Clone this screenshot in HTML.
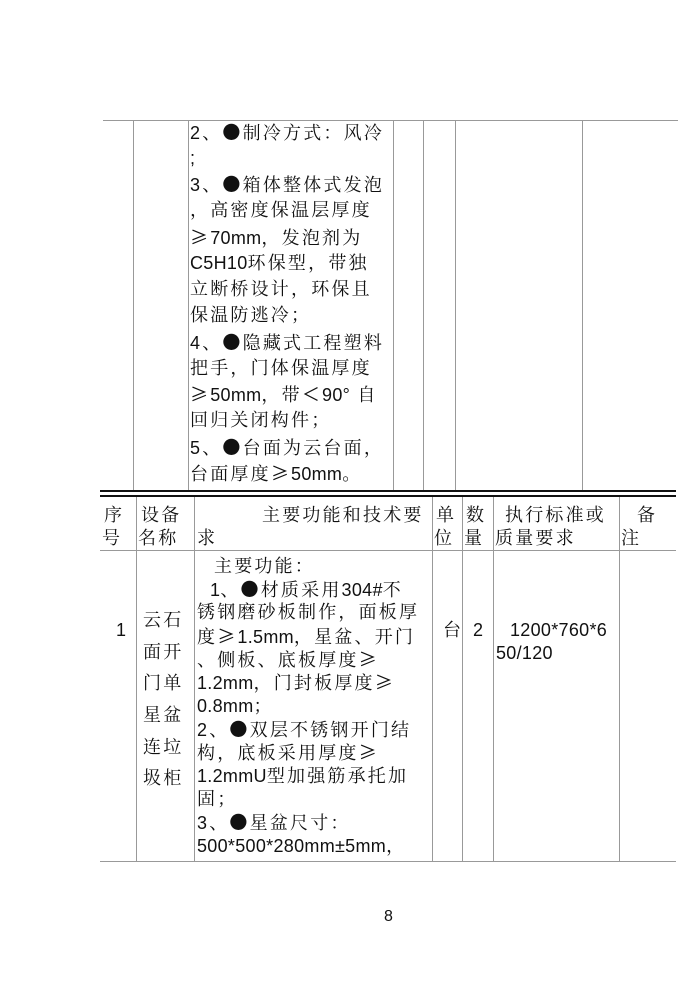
<!DOCTYPE html>
<html><head><meta charset="utf-8">
<style>
body{margin:0;background:#fff;}
#p{position:relative;width:699px;height:982px;overflow:hidden;font-family:"Liberation Sans","Noto Serif CJK SC","Noto Sans CJK SC",sans-serif;color:#111;}
.h{position:absolute;height:1px;background:#999;}
.v{position:absolute;width:1px;background:#999;}
.t{position:absolute;white-space:nowrap;font-size:18px;letter-spacing:2.2px;line-height:20px;}
.n{letter-spacing:0.3px;}
.c{font-family:"Noto Sans CJK SC",sans-serif;}
</style></head><body><div id="p">
<div class="h" style="left:103px;top:120px;width:575px"></div>
<div class="v" style="left:133px;top:120px;height:370px"></div>
<div class="v" style="left:188px;top:120px;height:370px"></div>
<div class="v" style="left:393px;top:120px;height:370px"></div>
<div class="v" style="left:423px;top:120px;height:370px"></div>
<div class="v" style="left:455px;top:120px;height:370px"></div>
<div class="v" style="left:582px;top:120px;height:370px"></div>
<div style="position:absolute;left:100px;top:490px;width:576px;height:2px;background:#111"></div>
<div style="position:absolute;left:100px;top:495px;width:576px;height:2px;background:#111"></div>
<div class="h" style="left:100px;top:550px;width:576px"></div>
<div class="h" style="left:100px;top:861px;width:576px"></div>
<div class="v" style="left:136px;top:497px;height:365px"></div>
<div class="v" style="left:194px;top:497px;height:365px"></div>
<div class="v" style="left:432px;top:497px;height:365px"></div>
<div class="v" style="left:462px;top:497px;height:365px"></div>
<div class="v" style="left:493px;top:497px;height:365px"></div>
<div class="v" style="left:619px;top:497px;height:365px"></div>

<div class="t" style="left:190px;top:122px">2、<span class="c">●</span>制冷方式：风冷</div>
<div class="t" style="left:190px;top:148px">;</div>
<div class="t" style="left:190px;top:174px">3、<span class="c">●</span>箱体整体式发泡</div>
<div class="t" style="left:190px;top:200px">，高密度保温层厚度</div>
<div class="t" style="left:190px;top:227px"><span class="c">≥</span><span class="n">70mm</span>，发泡剂为</div>
<div class="t" style="left:190px;top:253px"><span class="n">C5H10</span>环保型，带独</div>
<div class="t" style="left:190px;top:279px">立断桥设计，环保且</div>
<div class="t" style="left:190px;top:305px">保温防逃冷；</div>
<div class="t" style="left:190px;top:332px">4、<span class="c">●</span>隐藏式工程塑料</div>
<div class="t" style="left:190px;top:358px">把手，门体保温厚度</div>
<div class="t" style="left:190px;top:384px"><span class="c">≥</span><span class="n">50mm</span>，带<span class="c">＜</span><span class="n">90°</span> 自</div>
<div class="t" style="left:190px;top:410px">回归关闭构件；</div>
<div class="t" style="left:190px;top:437px">5、<span class="c">●</span>台面为云台面，</div>
<div class="t" style="left:190px;top:463px">台面厚度<span class="c">≥</span><span class="n">50mm</span>。</div>

<div class="t" style="left:104px;top:505px">序</div>
<div class="t" style="left:102px;top:528px">号</div>
<div class="t" style="left:141px;top:505px">设备</div>
<div class="t" style="left:138px;top:528px">名称</div>
<div class="t" style="left:262px;top:505px">主要功能和技术要</div>
<div class="t" style="left:197px;top:528px">求</div>
<div class="t" style="left:436px;top:505px">单</div>
<div class="t" style="left:434px;top:528px">位</div>
<div class="t" style="left:466px;top:505px">数</div>
<div class="t" style="left:464px;top:528px">量</div>
<div class="t" style="left:505px;top:505px">执行标准或</div>
<div class="t" style="left:495px;top:528px">质量要求</div>
<div class="t" style="left:637px;top:505px">备</div>
<div class="t" style="left:621px;top:528px">注</div>

<div class="t" style="left:214px;top:556px">主要功能：</div>
<div class="t" style="left:210px;top:579px"><span class="n">1</span>、<span class="c">●</span>材质采用<span class="n">304#</span>不</div>
<div class="t" style="left:197px;top:602px">锈钢磨砂板制作，面板厚</div>
<div class="t" style="left:197px;top:626px">度<span class="c">≥</span><span class="n">1.5mm</span>，星盆、开门</div>
<div class="t" style="left:197px;top:649px">、侧板、底板厚度<span class="c">≥</span></div>
<div class="t" style="left:197px;top:672px"><span class="n">1.2mm</span>，门封板厚度<span class="c">≥</span></div>
<div class="t" style="left:197px;top:696px"><span class="n">0.8mm</span>；</div>
<div class="t" style="left:197px;top:719px">2、<span class="c">●</span>双层不锈钢开门结</div>
<div class="t" style="left:197px;top:742px">构，底板采用厚度<span class="c">≥</span></div>
<div class="t" style="left:197px;top:766px"><span class="n">1.2mmU</span>型加强筋承托加</div>
<div class="t" style="left:197px;top:789px">固；</div>
<div class="t" style="left:197px;top:812px">3、<span class="c">●</span>星盆尺寸：</div>
<div class="t" style="left:197px;top:836px"><span class="n">500*500*280mm±5mm</span>，</div>

<div class="t" style="left:116px;top:620px">1</div>
<div class="t" style="left:143px;top:610px">云石</div>
<div class="t" style="left:143px;top:642px">面开</div>
<div class="t" style="left:143px;top:673px">门单</div>
<div class="t" style="left:143px;top:705px">星盆</div>
<div class="t" style="left:143px;top:737px">连垃</div>
<div class="t" style="left:143px;top:768px">圾柜</div>
<div class="t" style="left:443px;top:620px">台</div>
<div class="t" style="left:473px;top:620px">2</div>
<div class="t" style="left:510px;top:620px"><span class="n">1200*760*6</span></div>
<div class="t" style="left:496px;top:643px"><span class="n">50/120</span></div>

<div style="position:absolute;left:384px;top:908px;font-size:16px;">8</div>
</div></body></html>
